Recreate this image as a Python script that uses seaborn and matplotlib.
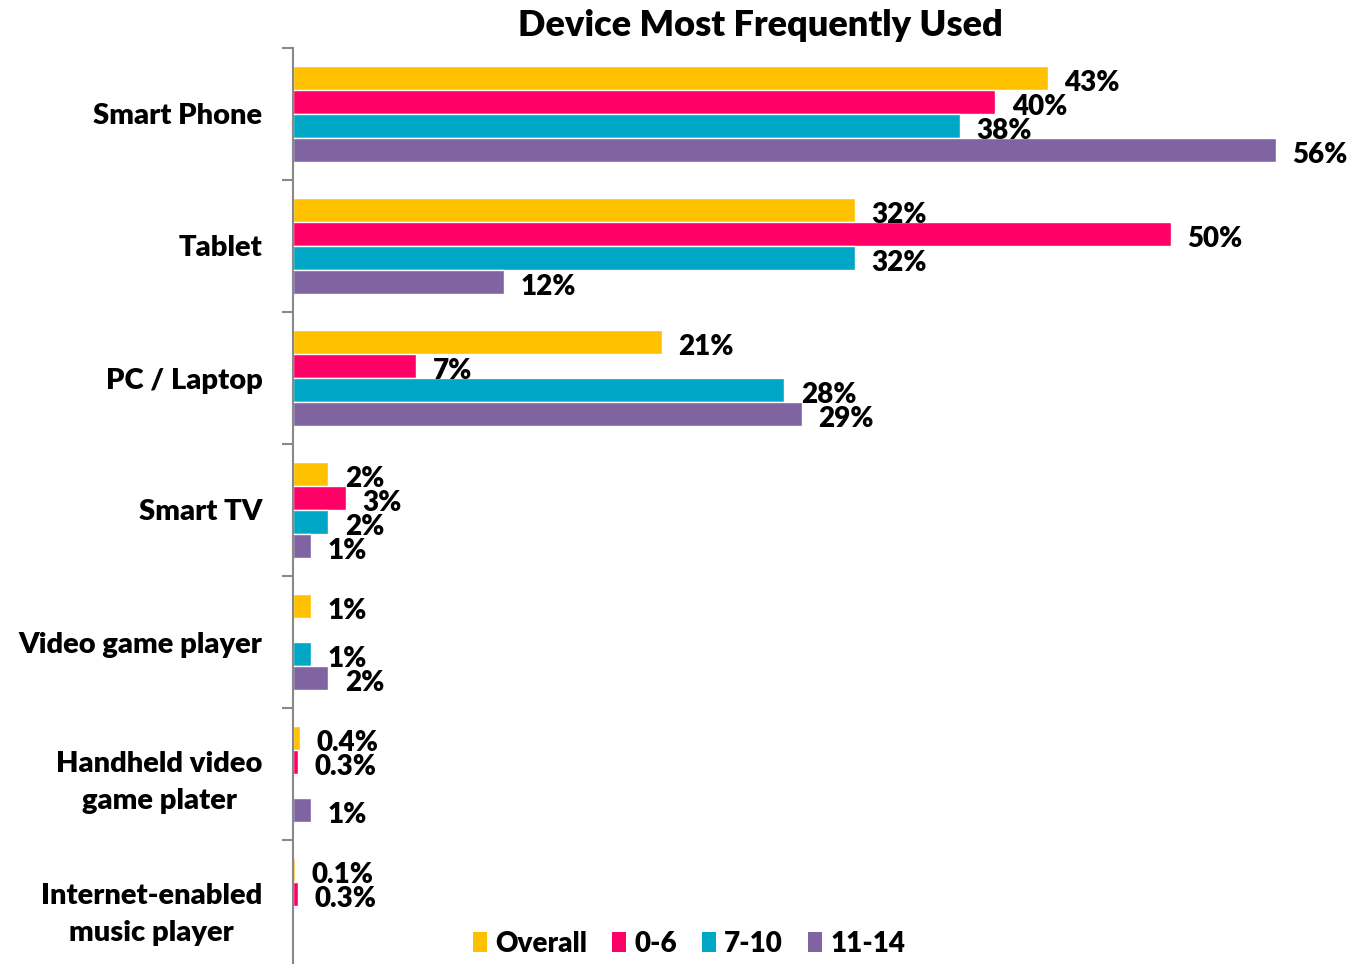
import matplotlib
matplotlib.use("Agg")
import matplotlib.pyplot as plt
from matplotlib.patches import Patch
import seaborn as sns
import pandas as pd

# Survey results: share of children naming each device as most frequently used
categories = [
    "Smart Phone",
    "Tablet",
    "PC / Laptop",
    "Smart TV",
    "Video game player",
    "Handheld video\ngame plater",
    "Internet-enabled\nmusic player",
]
groups = ["Overall", "0-6", "7-10", "11-14"]

# None = no response recorded for that age band
overall = [43, 32, 21, 2, 1, 0.4, 0.1]
age_0_6 = [40, 50, 7, 3, None, 0.3, 0.3]
age_7_10 = [38, 32, 28, 2, 1, None, None]
age_11_14 = [56, 12, 29, 1, 2, 1, None]

colors = ["#FFC000", "#FF0066", "#00A6C6", "#8064A2"]

rows = []
for grp, vals in zip(groups, [overall, age_0_6, age_7_10, age_11_14]):
    for cat, v in zip(categories, vals):
        if v is not None:
            rows.append({"device": cat, "group": grp, "share": v})
df = pd.DataFrame(rows)

sns.set_theme(style="white")
plt.rcParams["font.family"] = ["Lato", "DejaVu Sans"]
plt.rcParams["font.weight"] = "heavy"
plt.rcParams["text.color"] = "black"
WEIGHT = "heavy"
FS = 20

W, H = 1351, 964
fig = plt.figure(figsize=(W / 100, H / 100), dpi=100)
ax_left, ax_top, ax_bottom = 293, 48, 972
ax = fig.add_axes([ax_left / W, 1 - ax_bottom / H, (W - ax_left) / W, (ax_bottom - ax_top) / H])

sns.barplot(
    data=df, y="device", x="share", hue="group",
    order=categories, hue_order=groups, palette=colors,
    orient="h", width=0.727, errorbar=None, saturation=1,
    legend=False, ax=ax,
)

for cont in ax.containers:
    anns = ax.bar_label(cont, fmt=lambda v: f"{v:g}%", padding=12,
                        fontsize=FS, fontweight=WEIGHT, color="black")
    for a in anns:
        a.xyann = (12, -3.5)

ax.set_xlim(0, (W - ax_left) / 17.55)
ax.set_ylim(len(categories) - 0.5, -0.5)
ax.set_xlabel("")
ax.set_ylabel("")
ax.xaxis.set_visible(False)
for side in ["top", "right", "bottom"]:
    ax.spines[side].set_visible(False)
ax.spines["left"].set_color("#888888")
ax.spines["left"].set_linewidth(1.5)

# category labels at centres, tick marks at group boundaries
ax.set_yticks(range(len(categories)))
ax.set_yticklabels(categories, fontsize=21, fontweight=WEIGHT, color="black")
ax.set_yticks([i - 0.5 for i in range(len(categories) + 1)], minor=True)
ax.tick_params(axis="y", which="major", length=0, pad=22)
ax.tick_params(axis="y", which="minor", length=8, width=1.5, color="#888888",
               direction="out", left=True)
for lbl in ax.get_yticklabels():
    lbl.set_multialignment("center")
    lbl.set_linespacing(1.55)

fig.text(760 / W, 1 - 25 / H, "Device Most Frequently Used",
         ha="center", va="center", fontsize=26, fontweight=WEIGHT, color="black")

handles = [Patch(facecolor=c, edgecolor="none", label=g) for g, c in zip(groups, colors)]
leg = fig.legend(
    handles=handles, loc="center", ncol=4,
    bbox_to_anchor=(689 / W, 1 - 944 / H), frameon=False,
    prop={"size": FS, "weight": WEIGHT}, handlelength=0.5, handleheight=0.75,
    handletextpad=0.3, columnspacing=0.9, borderpad=0,
)
for t in leg.get_texts():
    t.set_color("black")

fig.savefig("out.png", dpi=100)
